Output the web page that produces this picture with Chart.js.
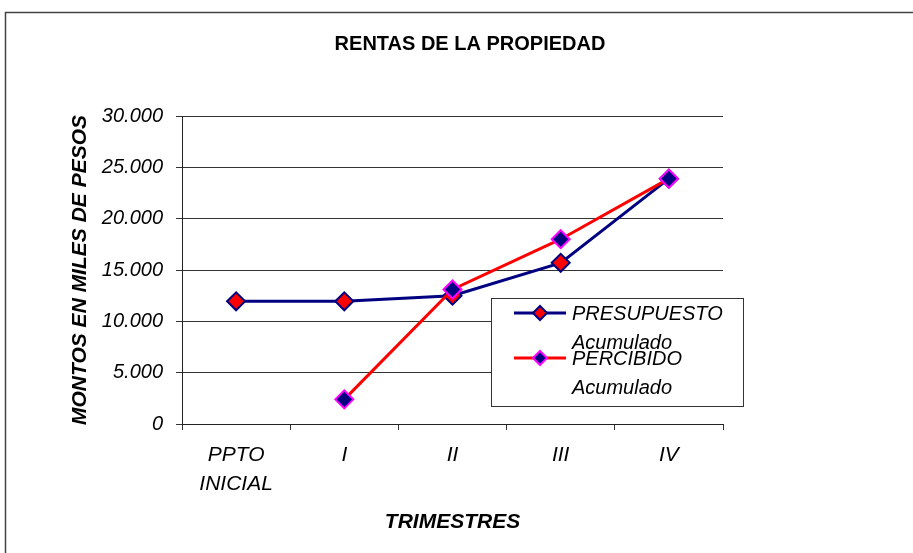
<!DOCTYPE html>
<html>
<head>
<meta charset="utf-8">
<script src="https://cdn.jsdelivr.net/npm/chart.js"></script>
<style>
  body { margin: 0; background: #fff; }
  #wrap { width: 913px; height: 553px; }
</style>
</head>
<body>
<div id="wrap"><canvas id="chart"></canvas></div>
<script>
// data
const categories = [['PPTO', 'INICIAL'], 'I', 'II', 'III', 'IV'];
const presupuesto = [11950, 11950, 12500, 15700, 23900];
const percibido = [null, 2400, 13100, 18000, 23900];
const seriesNames = [['PRESUPUESTO', 'Acumulado'], ['PERCIBIDO', 'Acumulado']];
const chartTitle = 'RENTAS DE LA PROPIEDAD';

const NAVY = '#000080';
const RED = '#ff0000';
const MAGENTA = '#ff00ff';
const FONT = '"Liberation Sans", Arial, sans-serif';

function miles(v) {
  return v === 0 ? '0' : String(v).replace(/\B(?=(\d{3})+(?!\d))/g, '.');
}

// outer frame, title and the boxed legend
const decor = {
  id: 'decor',
  beforeDraw(chart) {
    const ctx = chart.ctx;
    ctx.save();
    ctx.fillStyle = '#fff';
    ctx.fillRect(0, 0, chart.width, chart.height);
    ctx.strokeStyle = '#444';
    ctx.lineWidth = 1.5;
    ctx.strokeRect(5.5, 12.5, 2000, 2000);
    ctx.restore();
  },
  afterDraw(chart) {
    const ctx = chart.ctx;
    const area = chart.chartArea;
    ctx.save();
    ctx.fillStyle = '#000';
    ctx.font = 'bold 20px ' + FONT;
    ctx.textAlign = 'center';
    ctx.textBaseline = 'middle';
    ctx.fillText(chartTitle, 470, 44);

    // legend box
    const lx = area.left + 309, ly = area.top + 182;
    ctx.fillStyle = '#fff';
    ctx.fillRect(lx, ly, 252, 108);
    ctx.strokeStyle = '#333';
    ctx.lineWidth = 1;
    ctx.strokeRect(lx + 0.5, ly + 0.5, 252, 108);
    chart.data.datasets.forEach((ds, i) => {
      const y = ly + 15 + i * 45;
      ctx.strokeStyle = ds.borderColor;
      ctx.lineWidth = 3;
      ctx.beginPath();
      ctx.moveTo(lx + 23, y);
      ctx.lineTo(lx + 75, y);
      ctx.stroke();
      ctx.fillStyle = ds.pointBackgroundColor;
      ctx.strokeStyle = ds.pointBorderColor;
      ctx.lineWidth = 2;
      Chart.helpers.drawPoint(ctx, { pointStyle: 'rectRot', radius: 7, borderWidth: 2 }, lx + 49, y);
      ctx.fillStyle = '#000';
      ctx.font = 'italic 20px ' + FONT;
      ctx.textAlign = 'left';
      ctx.fillText(seriesNames[i][0], lx + 81, y + 1);
      ctx.fillText(seriesNames[i][1], lx + 81, y + 30);
    });
    ctx.restore();
  }
};

new Chart(document.getElementById('chart'), {
  type: 'line',
  data: {
    labels: categories,
    datasets: [{
      label: 'PRESUPUESTO Acumulado',
      data: presupuesto,
      borderColor: NAVY,
      borderWidth: 3,
      pointStyle: 'rectRot',
      pointRadius: 9,
      pointBorderWidth: 2,
      pointBackgroundColor: RED,
      pointBorderColor: NAVY,
      tension: 0,
      order: 1
    }, {
      label: 'PERCIBIDO Acumulado',
      data: percibido,
      borderColor: RED,
      borderWidth: 3,
      pointStyle: 'rectRot',
      pointRadius: 9,
      pointBorderWidth: 2,
      pointBackgroundColor: NAVY,
      pointBorderColor: MAGENTA,
      tension: 0,
      order: 0
    }]
  },
  options: {
    responsive: true,
    maintainAspectRatio: false,
    animation: false,
    events: [],
    layout: { padding: { left: 0, right: 190, top: 116, bottom: 0 } },
    plugins: {
      legend: { display: false },
      title: { display: false },
      tooltip: { enabled: false }
    },
    scales: {
      x: {
        offset: true,
        afterFit(scale) { scale.height = 129; },
        grid: {
          offset: true,
          drawOnChartArea: false,
          color: '#333',
          tickLength: 6
        },
        border: { color: '#222', width: 1 },
        ticks: {
          color: '#000',
          padding: 11,
          maxRotation: 0,
          font: { family: FONT, size: 21, style: 'italic', lineHeight: 1.38 }
        },
        title: {
          display: true,
          text: 'TRIMESTRES',
          color: '#000',
          padding: { top: 0, bottom: 18 },
          font: { family: FONT, size: 21, style: 'italic', weight: 'bold' }
        }
      },
      y: {
        min: 0,
        max: 30000,
        afterFit(scale) { scale.width = 182; },
        grid: { color: '#333', tickLength: 6 },
        border: { color: '#222', width: 1 },
        ticks: {
          stepSize: 5000,
          color: '#000',
          padding: 13,
          callback: v => miles(v),
          font: { family: FONT, size: 20, style: 'italic' }
        },
        title: {
          display: true,
          text: 'MONTOS EN MILES DE PESOS',
          color: '#000',
          padding: { top: 68, bottom: 0 },
          font: { family: FONT, size: 21, style: 'italic', weight: 'bold' }
        }
      }
    }
  },
  plugins: [decor]
});
</script>
</body>
</html>
